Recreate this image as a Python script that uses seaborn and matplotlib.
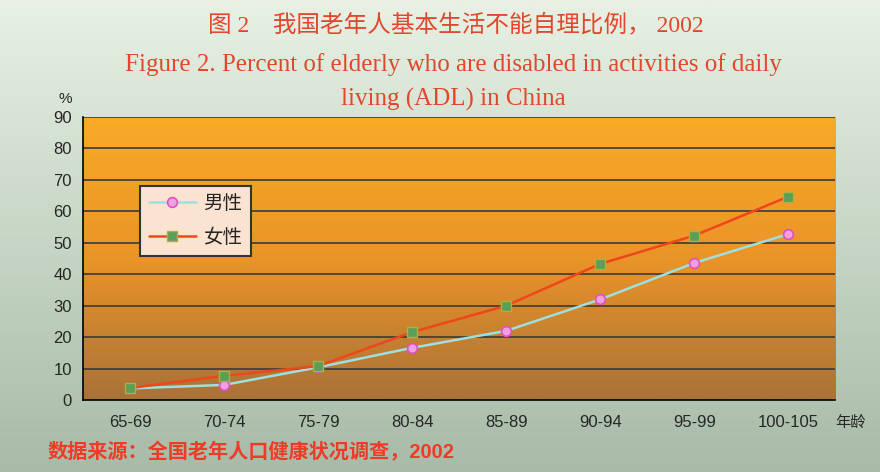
import seaborn as sns
import matplotlib.pyplot as plt
import matplotlib.colors as mcolors
import numpy as np
import pandas as pd

# data
ages = ['65-69', '70-74', '75-79', '80-84', '85-89', '90-94', '95-99', '100-105']
male = [3.7, 4.8, 10.4, 16.6, 22.0, 32.0, 43.6, 52.8]
female = [3.8, 7.7, 10.8, 21.6, 30.0, 43.3, 52.3, 64.7]
series_names = ['男性', '女性']
yticks = [0, 10, 20, 30, 40, 50, 60, 70, 80, 90]

sns.set_style('white')
plt.rcParams['font.family'] = ['Liberation Sans', 'Noto Sans CJK SC', 'DejaVu Sans']

fig = plt.figure(figsize=(8.8, 4.72), dpi=100)

# figure background gradient
bg = fig.add_axes([0, 0, 1, 1], zorder=-10)
bg_cmap = mcolors.LinearSegmentedColormap.from_list('bg', ['#e8f1e4', '#a7bba8'])
bg.imshow(np.linspace(0, 1, 256).reshape(-1, 1), cmap=bg_cmap, aspect='auto',
          extent=[0, 1, 0, 1])
bg.axis('off')

ax = fig.add_axes([0.0943, 0.1525, 0.855, 0.5995])
ax.patch.set_alpha(0)
pos = np.arange(len(ages))
plot_cmap = mcolors.LinearSegmentedColormap.from_list(
    'plot', ['#f9aa26', '#ea9428', '#a97238'])
ax.imshow(np.linspace(0, 1, 256).reshape(-1, 1), cmap=plot_cmap, aspect='auto',
          extent=[-0.5, len(ages) - 0.5, 0, 90], zorder=0)

df = pd.DataFrame({'pos': np.concatenate([pos, pos]),
                   'value': male + female,
                   'sex': [series_names[0]] * len(ages) + [series_names[1]] * len(ages)})

for y in yticks[1:]:
    ax.axhline(y, color='#3a3a3a', lw=1.2, zorder=1)

sns.lineplot(data=df[df['sex'] == series_names[0]], x='pos', y='value', ax=ax,
             color='#9ee0de', lw=1.8, marker='o', markersize=7,
             markerfacecolor='#f0a0e0', markeredgecolor='#e050c0',
             markeredgewidth=1.2, label=series_names[0], zorder=3)
sns.lineplot(data=df[df['sex'] == series_names[1]], x='pos', y='value', ax=ax,
             color='#f0461c', lw=1.8, marker='s', markersize=7,
             markerfacecolor='#5a9e5a', markeredgecolor='#b0b040',
             markeredgewidth=1.0, label=series_names[1], zorder=4)

ax.set_xlim(-0.5, len(ages) - 0.5)
ax.set_ylim(0, 90)
ax.set_yticks(yticks)
ax.set_yticklabels([str(v) for v in yticks], fontsize=12)
ax.set_xticks(np.arange(len(ages) + 1) - 0.5)
ax.set_xticklabels([])
ax.set_xticks(pos, minor=True)
ax.set_xticklabels(ages, minor=True, fontsize=12)
ax.tick_params(axis='x', which='minor', length=0, pad=11)
ax.tick_params(axis='x', which='major', length=5, width=1, direction='out', color='black')
ax.tick_params(axis='y', length=5, width=1, direction='out', color='black', pad=3)
ax.set_xlabel('')
ax.set_ylabel('')
for s in ['top', 'right']:
    ax.spines[s].set_visible(False)
for s in ['left', 'bottom']:
    ax.spines[s].set_color('black')
    ax.spines[s].set_linewidth(1.2)

leg = ax.legend(loc='upper left', bbox_to_anchor=(0.076, 0.755), fontsize=14,
                frameon=True, fancybox=False, edgecolor='#333333',
                facecolor='#fbe3d2', framealpha=1, handlelength=2.4,
                handletextpad=0.4, borderpad=0.45, labelspacing=0.8,
                borderaxespad=0)
leg.get_frame().set_linewidth(1.5)

title_font = ['Liberation Serif', 'Noto Sans CJK SC']
fig.text(0.518, 0.947, '图 2    我国老年人基本生活不能自理比例， 2002', ha='center', va='center',
         fontsize=17, color='#e3462c', family=title_font)
fig.text(0.515, 0.863, 'Figure 2. Percent of elderly who are disabled in activities of daily',
         ha='center', va='center', fontsize=18, color='#e3462c', family=title_font)
fig.text(0.515, 0.79, 'living (ADL) in China', ha='center', va='center',
         fontsize=18, color='#e3462c', family=title_font)
fig.text(0.074, 0.79, '%', ha='center', va='center', fontsize=11)
fig.text(0.966, 0.105, '年龄', ha='center', va='center', fontsize=11)
fig.text(0.054, 0.042, '数据来源：全国老年人口健康状况调查，2002', ha='left', va='center',
         fontsize=14.5, color='#f03a28', fontweight='bold')

plt.savefig('out.png', dpi=100)
